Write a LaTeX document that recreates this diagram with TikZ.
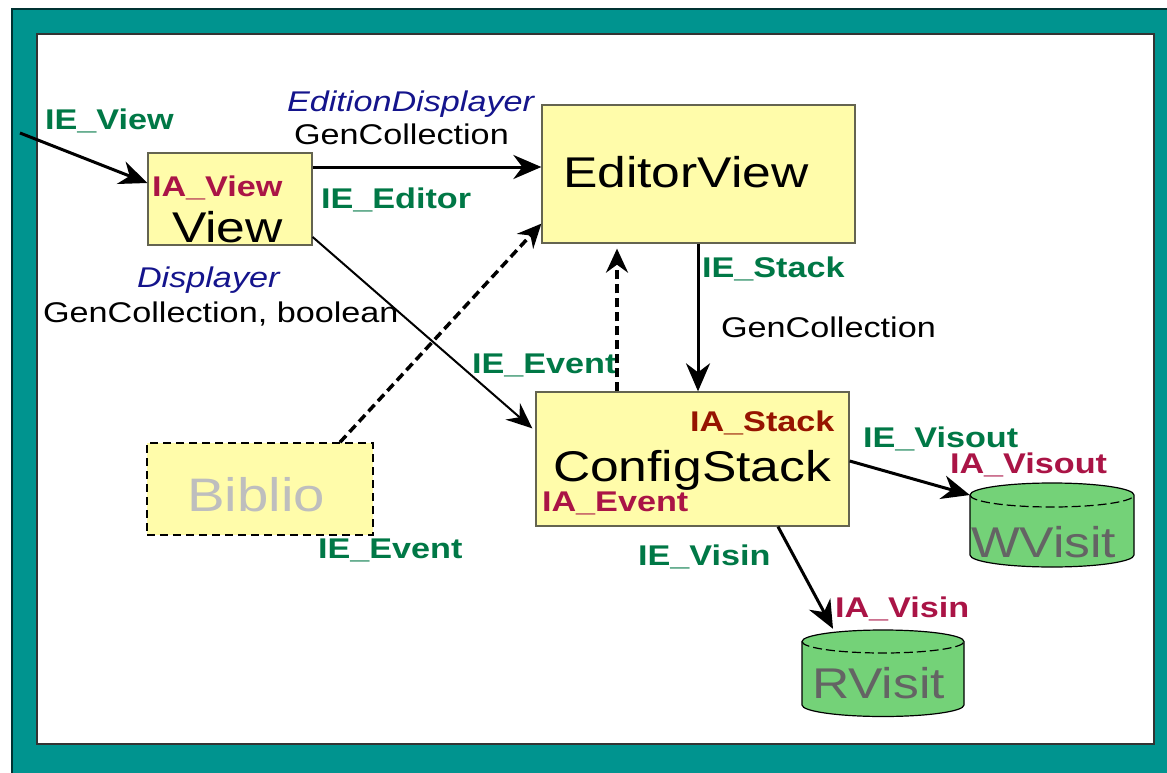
\documentclass[tikz,border=0pt]{standalone}
\usepackage{fontspec}
\setmainfont{Liberation Sans}[FakeStretch=1.2]
\usetikzlibrary{arrows.meta}
\definecolor{frameteal}{RGB}{0,148,143}
\definecolor{framedark}{RGB}{0,50,50}
\definecolor{boxfill}{RGB}{255,252,170}
\definecolor{boxline}{RGB}{100,100,80}
\definecolor{iegreen}{RGB}{0,120,70}
\definecolor{iared}{RGB}{170,20,70}
\definecolor{iastack}{RGB}{150,20,0}
\definecolor{navy}{RGB}{20,20,140}
\definecolor{cylfill}{RGB}{116,210,120}
\definecolor{cyltext}{RGB}{100,100,100}
\definecolor{bibtext}{RGB}{190,190,190}
\tikzset{
  box/.style={draw=boxline, fill=boxfill, line width=1.3pt, inner sep=0pt},
  txt/.style={anchor=base west, inner sep=0pt, outer sep=0pt},
  ie/.style={txt, text=iegreen, font=\fontsize{28.5}{30}\selectfont\bfseries},
  ia/.style={txt, text=iared, font=\fontsize{28.5}{30}\selectfont\bfseries},
  sm/.style={txt, text=black, font=\fontsize{28.5}{30}\selectfont},
  itl/.style={txt, text=navy, font=\fontsize{28.5}{30}\selectfont\itshape},
  big/.style={txt, text=black, font=\fontsize{43}{46}\selectfont},
  cyl/.style={fill=cylfill, draw=black, line width=1.2pt},
  tip/.style={-{Stealth[length=28pt,width=24pt,inset=9pt]}},
  conn/.style={tip, line width=3pt},
  thinconn/.style={-{Stealth[length=26pt,width=22pt,inset=9pt]}, line width=2pt},
  dconn/.style={-{Stealth[length=24pt,width=22pt,inset=8pt]}, line width=3.5pt, dash pattern=on 9pt off 5pt},
}
\begin{document}
\begin{tikzpicture}[x=1pt,y=1pt]
\useasboundingbox (0,0) rectangle (1167,-773);
% frame
\fill[frameteal] (12,-9) rectangle (1167,-773);
\draw[framedark, line width=2pt] (12,-773) -- (12,-9) -- (1167,-9);
\draw[fill=white, draw=black!80, line width=1.5pt] (37,-34) rectangle (1154,-744);

% boxes
\node[box, minimum width=164pt, minimum height=92pt] (view) at (230,-199) {};
\node[box, minimum width=313pt, minimum height=138pt] (editor) at (698.5,-174) {};
\node[box, minimum width=313pt, minimum height=134pt] (config) at (692.5,-459) {};
\node[draw=black, fill=boxfill, line width=1.5pt, dash pattern=on 8pt off 5pt, inner sep=0pt,
      minimum width=226pt, minimum height=92pt] (biblio) at (260,-489) {};

% cylinders
\path[cyl] (970,-495) -- (970,-555) arc[start angle=180,end angle=360,x radius=82,y radius=12]
  -- (1134,-495) arc[start angle=0,end angle=180,x radius=82,y radius=12] -- cycle;
\draw[line width=1.2pt, dash pattern=on 9pt off 4pt] (970,-495) arc[start angle=180,end angle=360,x radius=82,y radius=12];
\node[inner sep=0pt, minimum width=164pt, minimum height=84pt] (wvisit) at (1052,-525) {};

\path[cyl] (802,-641.5) -- (802,-705) arc[start angle=180,end angle=360,x radius=81,y radius=11.5]
  -- (964,-641.5) arc[start angle=0,end angle=180,x radius=81,y radius=11.5] -- cycle;
\draw[line width=1.2pt, dash pattern=on 9pt off 4pt] (802,-641.5) arc[start angle=180,end angle=360,x radius=81,y radius=11.5];
\node[inner sep=0pt, minimum width=162pt, minimum height=88pt] (rvisit) at (883,-673) {};

% texts
\node[ie] (tIEView) at (45,-130) {IE\_View};
\node[ia] (tIAView) at (152,-196) {IA\_View};
\node[big] (tView) at (172,-242) {View};
\node[itl] (tED) at (287,-112) {EditionDisplayer};
\node[sm] (tGC1) at (294,-145) {GenCollection};
\node[ie] (tIEEditor) at (321,-208) {IE\_Editor};
\node[big] (tEditorView) at (563,-187) {EditorView};
\node[itl] (tDisp) at (137,-287) {Displayer};
\node[sm] (tGCB) at (43,-322) {GenCollection, boolean};
\node[ie] (tIEStack) at (702,-277) {IE\_Stack};
\node[sm] (tGC2) at (721,-337) {GenCollection};
\node[ie] (tIEEvent1) at (472,-373) {IE\_Event};
\node[txt, text=iastack, font=\fontsize{28.5}{30}\selectfont\bfseries] (tIAStack) at (690,-431) {IA\_Stack};
\node[big] (tConfig) at (553,-481) {ConfigStack};
\node[ia] (tIAEvent) at (542,-511) {IA\_Event};
\node[ie] (tIEVisin) at (638,-565) {IE\_Visin};
\node[ie] (tIEVisout) at (863,-447) {IE\_Visout};
\node[ia] (tIAVisout) at (950,-473) {IA\_Visout};
\node[big, text=cyltext] (tWVisit) at (971,-557) {WVisit};
\node[ie] (tIEEvent2) at (318,-558) {IE\_Event};
\node[txt, text=bibtext, font=\fontsize{47}{50}\selectfont] (tBiblio) at (187,-511) {Biblio};
\node[ia] (tIAVisin) at (835,-617) {IA\_Visin};
\node[big, text=cyltext] (tRVisit) at (812,-698) {RVisit};

% connectors
\coordinate (ievsrc) at (20,-133);
\draw[conn] (ievsrc) -- ([yshift=16pt]view.west);
\draw[conn] ([yshift=32pt]view.east) -- ([yshift=7pt]editor.west);
\draw[thinconn, shorten >=4pt] ([yshift=-38pt]view.east) -- ([yshift=28pt]config.west);
\draw[dconn] ([xshift=80pt]biblio.north) -- ([yshift=20pt]editor.south west);
\draw[dconn] ([xshift=-75.5pt]config.north) -- ([xshift=-81.5pt,yshift=-5pt]editor.south);
\draw[conn] ([xshift=-0.5pt]editor.south) -- ([xshift=5.5pt]config.north);
\draw[conn] ([yshift=-2pt]config.east) -- ([yshift=30pt]wvisit.west);
\draw[conn] ([xshift=85.5pt]config.south) -- ([xshift=-50pt]rvisit.north);
\end{tikzpicture}
\end{document}
